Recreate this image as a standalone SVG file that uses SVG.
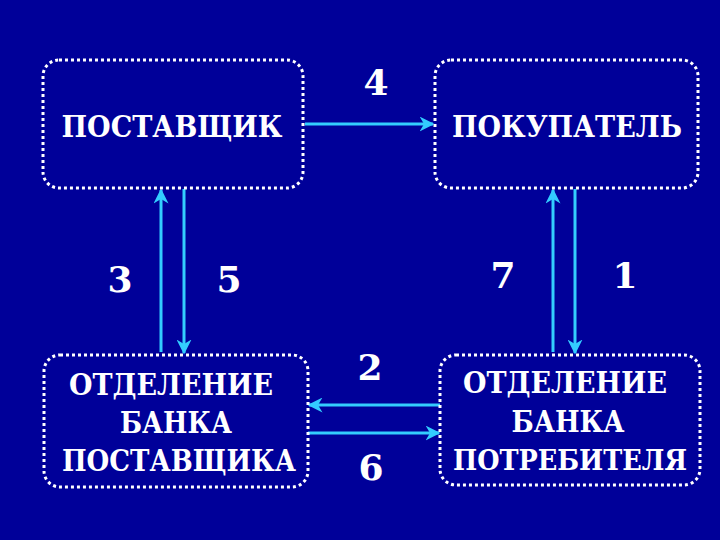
<svg xmlns="http://www.w3.org/2000/svg" width="720" height="540" viewBox="0 0 720 540">
<defs>
<style>
.box{fill:#000099;stroke:#ffffff;stroke-width:3;stroke-dasharray:3 3}
.t{font-family:'DejaVu Serif','Liberation Serif',serif;font-weight:bold;fill:#ffffff;text-anchor:middle}
.nt{font-size:30px}
.num{font-size:36px}
.c{stroke:#33ccff;stroke-width:3;fill:none;marker-end:url(#ah)}
</style>
<marker id="ah" viewBox="0 0 10 10" refX="9" refY="5" markerWidth="5" markerHeight="5" orient="auto" markerUnits="strokeWidth">
<path d="M0,0 L10,5 L0,10 L3,5 Z" fill="#33ccff"/>
</marker>
</defs>
<rect width="720" height="540" fill="#000099"/>
<g id="connectors">
<line class="c" x1="305" y1="124" x2="433" y2="124"/>
<line class="c" x1="161" y1="352" x2="161" y2="190"/>
<line class="c" x1="184" y1="189" x2="184" y2="353"/>
<line class="c" x1="553" y1="352" x2="553" y2="190"/>
<line class="c" x1="575" y1="189" x2="575" y2="353"/>
<line class="c" x1="440" y1="405" x2="309" y2="405"/>
<line class="c" x1="308" y1="433" x2="439" y2="433"/>
</g>
<g id="labels">
<text class="t num" x="376" y="95">4</text>
<text class="t num" x="120" y="292">3</text>
<text class="t num" x="229" y="292">5</text>
<text class="t num" x="503" y="288">7</text>
<text class="t num" x="625" y="288">1</text>
<text class="t num" x="370" y="380">2</text>
<text class="t num" x="371" y="480">6</text>
</g>
<g id="supplier">
<rect class="box" x="43" y="60" width="260" height="128" rx="16"/>
<text class="t nt" x="172" y="137" textLength="221" lengthAdjust="spacingAndGlyphs">ПОСТАВЩИК</text>
</g>
<g id="buyer">
<rect class="box" x="435" y="60" width="263" height="128" rx="16"/>
<text class="t nt" x="567" y="137" textLength="230" lengthAdjust="spacingAndGlyphs">ПОКУПАТЕЛЬ</text>
</g>
<g id="supplier-bank">
<rect class="box" x="44" y="355" width="264" height="132" rx="16"/>
<text class="t nt" x="171" y="395" textLength="204" lengthAdjust="spacingAndGlyphs">ОТДЕЛЕНИЕ</text>
<text class="t nt" x="176" y="433" textLength="112" lengthAdjust="spacingAndGlyphs">БАНКА</text>
<text class="t nt" x="179" y="471" textLength="234" lengthAdjust="spacingAndGlyphs">ПОСТАВЩИКА</text>
</g>
<g id="consumer-bank">
<rect class="box" x="440" y="355" width="260" height="130" rx="16"/>
<text class="t nt" x="565" y="393" textLength="204" lengthAdjust="spacingAndGlyphs">ОТДЕЛЕНИЕ</text>
<text class="t nt" x="568" y="432" textLength="113" lengthAdjust="spacingAndGlyphs">БАНКА</text>
<text class="t nt" x="570" y="470" font-size="28" style="font-size:28px" textLength="234" lengthAdjust="spacingAndGlyphs">ПОТРЕБИТЕЛЯ</text>
</g>
</svg>
